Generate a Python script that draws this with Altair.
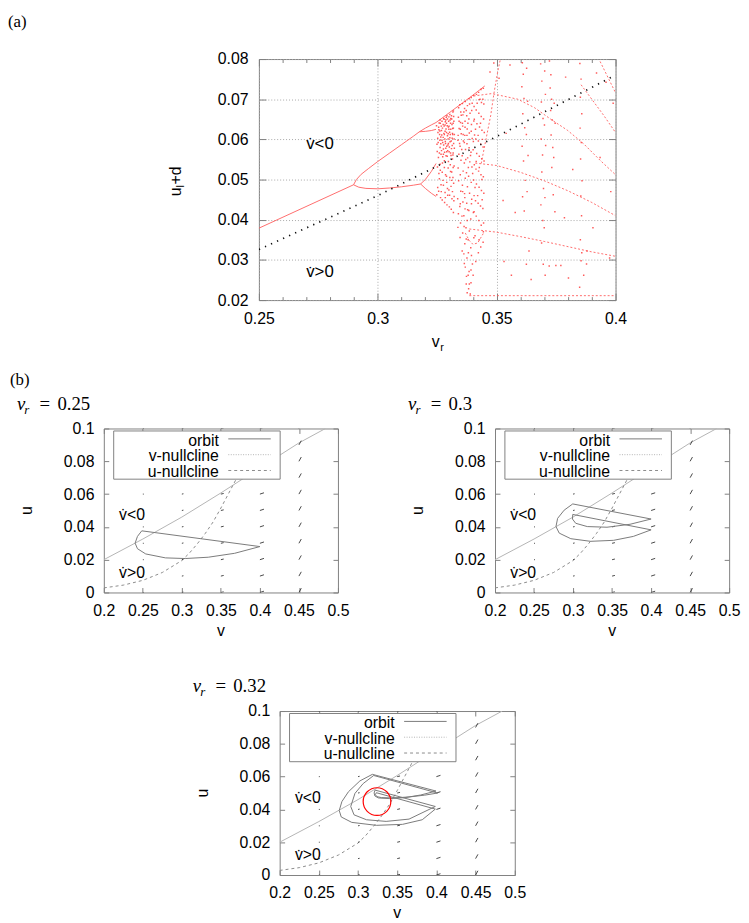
import altair as alt
import pandas as pd

SANS = "Liberation Sans"
SERIF = "Liberation Serif"
RED_LINE = "#ff5c5c"
RED_DOT = "#ff3030"
BORDER = "#808080"
ORBIT_C = "#7a7a7a"
VNULL_C = "#b4b4b4"
UNULL_C = "#8a8a8a"

ONE = pd.DataFrame({"k": [0]})

# ================= panel (a): bifurcation diagram =================
A_X_MAJOR = [0.25, 0.30, 0.35, 0.40]
A_X_TICKS = [0.25, 0.26, 0.27, 0.28, 0.29, 0.30, 0.31, 0.32, 0.33, 0.34,
             0.35, 0.36, 0.37, 0.38, 0.39, 0.40]
A_Y_TICKS = [0.02, 0.03, 0.04, 0.05, 0.06, 0.07, 0.08]

P1_V = [0.2500, 0.2898]
P1_U = [0.0379, 0.0487]
P2_UP_V = [0.2898, 0.2910, 0.2930, 0.2960, 0.3000, 0.3050, 0.3100, 0.3150, 0.3175]
P2_UP_U = [0.0487, 0.0500, 0.0513, 0.0527, 0.0545, 0.0566, 0.0587, 0.0608, 0.0619]
P2_LO_V = [0.2898, 0.2920, 0.2950, 0.3000, 0.3050, 0.3100, 0.3150, 0.3180]
P2_LO_U = [0.0487, 0.0481, 0.0478, 0.0477, 0.0479, 0.0482, 0.0486, 0.0489]
P4_A_V = [0.3175, 0.3200, 0.3225, 0.3245]
P4_A_U = [0.0619, 0.0628, 0.0636, 0.0642]
P4_B_V = [0.3175, 0.3200, 0.3225, 0.3245]
P4_B_U = [0.0619, 0.0620, 0.0622, 0.0625]
P4_C_V = [0.3180, 0.3200, 0.3225, 0.3245]
P4_C_U = [0.0489, 0.0500, 0.0520, 0.0540]
P4_D_V = [0.3180, 0.3200, 0.3225, 0.3245]
P4_D_U = [0.0489, 0.0478, 0.0466, 0.0458]
EDGE_V = [0.3245, 0.3300, 0.3350, 0.3400, 0.3450]
EDGE_U = [0.0642, 0.0666, 0.0688, 0.0710, 0.0733]

C_UP_V = [0.3403, 0.3479, 0.3589, 0.3659, 0.3728, 0.3797, 0.3866, 0.3935, 0.4000]
C_UP_U = [0.0708, 0.0714, 0.0700, 0.0679, 0.0650, 0.0623, 0.0589, 0.0548, 0.0512]
C_MID_V = [0.3410, 0.3500, 0.3600, 0.3700, 0.3800, 0.3900, 0.4000]
C_MID_U = [0.0541, 0.0535, 0.0518, 0.0497, 0.0472, 0.0443, 0.0410]
C_LOW_V = [0.3385, 0.3500, 0.3600, 0.3700, 0.3800, 0.3900, 0.4000]
C_LOW_U = [0.0377, 0.0369, 0.0358, 0.0346, 0.0333, 0.0320, 0.0309]
C_BOT_V = [0.3385, 0.4000]
C_BOT_U = [0.0211, 0.0211]
C_DG1_V = [0.3855, 0.3900, 0.3950, 0.4000]
C_DG1_U = [0.0736, 0.0700, 0.0660, 0.0617]
C_DG2_V = [0.3935, 0.4000]
C_DG2_U = [0.0794, 0.0716]
C_LUP_V = [0.3435, 0.3455, 0.3475, 0.3490, 0.3505, 0.3515]
C_LUP_U = [0.0540, 0.0600, 0.0660, 0.0720, 0.0770, 0.0798]
C_U_V = [0.3368, 0.3385, 0.3400, 0.3420, 0.3445]
C_U_U = [0.0367, 0.0348, 0.0339, 0.0342, 0.0367]

CHAOS = [
    (0.3248, 0.0462), (0.3251, 0.0531), (0.3249, 0.0588), (0.3253, 0.0617), (0.3247, 0.0634),
    (0.3256, 0.0471), (0.3259, 0.0502), (0.3255, 0.0555), (0.3261, 0.0598), (0.3258, 0.0641),
    (0.3257, 0.0624), (0.3264, 0.0455), (0.3266, 0.0487), (0.3263, 0.0523), (0.3268, 0.0572),
    (0.3265, 0.0606), (0.3267, 0.0633), (0.3262, 0.0648), (0.3271, 0.0449), (0.3274, 0.0498),
    (0.3272, 0.0541), (0.3276, 0.0563), (0.3273, 0.0592), (0.3278, 0.0615), (0.3275, 0.0637),
    (0.3277, 0.0652), (0.3281, 0.0443), (0.3283, 0.0468), (0.3285, 0.0512), (0.3280, 0.0547),
    (0.3286, 0.0578), (0.3282, 0.0601), (0.3287, 0.0626), (0.3284, 0.0644), (0.3288, 0.0655),
    (0.3291, 0.0437), (0.3294, 0.0461), (0.3290, 0.0493), (0.3296, 0.0529), (0.3292, 0.0558),
    (0.3295, 0.0586), (0.3293, 0.0609), (0.3297, 0.0631), (0.3291, 0.0659), (0.3301, 0.0432),
    (0.3299, 0.0474), (0.3303, 0.0505), (0.3305, 0.0537), (0.3300, 0.0569), (0.3304, 0.0594),
    (0.3302, 0.0618), (0.3306, 0.0640), (0.3303, 0.0662), (0.3309, 0.0426), (0.3312, 0.0452),
    (0.3308, 0.0483), (0.3311, 0.0519), (0.3314, 0.0551), (0.3310, 0.0577), (0.3313, 0.0603),
    (0.3315, 0.0627), (0.3311, 0.0651), (0.3316, 0.0668), (0.3318, 0.0418), (0.3320, 0.0447),
    (0.3319, 0.0491), (0.3321, 0.0534), (0.3317, 0.0566), (0.3322, 0.0612), (0.3320, 0.0645),
    (0.3318, 0.0671), (0.3252, 0.0603), (0.3260, 0.0612), (0.3268, 0.0622), (0.3270, 0.0598),
    (0.3279, 0.0633), (0.3285, 0.0590), (0.3289, 0.0640), (0.3296, 0.0601), (0.3298, 0.0645),
    (0.3305, 0.0612), (0.3307, 0.0652), (0.3314, 0.0615), (0.3317, 0.0640), (0.3262, 0.0580),
    (0.3276, 0.0576), (0.3290, 0.0569), (0.3308, 0.0560), (0.3319, 0.0590), (0.3283, 0.0620),
    (0.3299, 0.0625),
    (0.3250, 0.0570), (0.3254, 0.0592), (0.3256, 0.0630), (0.3259, 0.0566), (0.3261, 0.0621),
    (0.3263, 0.0640), (0.3265, 0.0589), (0.3266, 0.0563), (0.3269, 0.0611), (0.3270, 0.0645),
    (0.3272, 0.0628), (0.3273, 0.0557), (0.3275, 0.0605), (0.3277, 0.0586), (0.3279, 0.0650),
    (0.3280, 0.0612), (0.3281, 0.0568), (0.3283, 0.0636), (0.3284, 0.0595), (0.3286, 0.0648),
    (0.3287, 0.0559), (0.3289, 0.0617), (0.3290, 0.0583), (0.3292, 0.0634), (0.3293, 0.0651),
    (0.3294, 0.0572), (0.3296, 0.0614), (0.3297, 0.0590), (0.3299, 0.0656), (0.3300, 0.0633),
    (0.3301, 0.0581), (0.3303, 0.0604), (0.3304, 0.0648), (0.3306, 0.0566), (0.3307, 0.0625),
    (0.3309, 0.0596), (0.3310, 0.0659), (0.3312, 0.0637), (0.3313, 0.0585), (0.3315, 0.0612),
    (0.3316, 0.0561), (0.3318, 0.0628), (0.3319, 0.0657), (0.3321, 0.0601), (0.3322, 0.0578),
    (0.3252, 0.0480), (0.3257, 0.0515), (0.3262, 0.0538), (0.3267, 0.0470), (0.3271, 0.0518),
    (0.3276, 0.0486), (0.3280, 0.0530), (0.3284, 0.0455), (0.3289, 0.0508), (0.3293, 0.0478),
    (0.3297, 0.0545), (0.3302, 0.0461), (0.3306, 0.0520), (0.3310, 0.0498), (0.3314, 0.0470),
    (0.3317, 0.0530), (0.3321, 0.0458), (0.3316, 0.0505),
    (0.3337, 0.0381), (0.3339, 0.0415), (0.3336, 0.0452), (0.3340, 0.0497), (0.3338, 0.0529),
    (0.3341, 0.0563), (0.3337, 0.0598), (0.3342, 0.0627), (0.3339, 0.0655), (0.3340, 0.0679),
    (0.3346, 0.0356), (0.3348, 0.0392), (0.3345, 0.0433), (0.3349, 0.0471), (0.3347, 0.0512),
    (0.3350, 0.0548), (0.3346, 0.0583), (0.3351, 0.0614), (0.3348, 0.0642), (0.3349, 0.0668),
    (0.3345, 0.0686), (0.3355, 0.0322), (0.3357, 0.0367), (0.3354, 0.0409), (0.3358, 0.0444),
    (0.3356, 0.0486), (0.3359, 0.0521), (0.3355, 0.0559), (0.3360, 0.0596), (0.3357, 0.0633),
    (0.3358, 0.0661), (0.3356, 0.0689), (0.3364, 0.0291), (0.3366, 0.0340), (0.3363, 0.0383),
    (0.3367, 0.0427), (0.3365, 0.0465), (0.3368, 0.0503), (0.3364, 0.0541), (0.3369, 0.0575),
    (0.3366, 0.0610), (0.3367, 0.0645), (0.3365, 0.0677), (0.3368, 0.0694), (0.3373, 0.0259),
    (0.3375, 0.0305), (0.3372, 0.0352), (0.3376, 0.0398), (0.3374, 0.0441), (0.3377, 0.0482),
    (0.3373, 0.0517), (0.3378, 0.0554), (0.3375, 0.0589), (0.3376, 0.0626), (0.3374, 0.0659),
    (0.3377, 0.0684), (0.3382, 0.0228), (0.3384, 0.0271), (0.3381, 0.0318), (0.3385, 0.0372),
    (0.3383, 0.0423), (0.3386, 0.0466), (0.3382, 0.0508), (0.3387, 0.0544), (0.3384, 0.0579),
    (0.3385, 0.0616), (0.3383, 0.0651), (0.3386, 0.0688), (0.3384, 0.0701), (0.3392, 0.0243),
    (0.3394, 0.0311), (0.3391, 0.0402), (0.3395, 0.0451), (0.3393, 0.0493), (0.3396, 0.0531),
    (0.3392, 0.0568), (0.3397, 0.0602), (0.3394, 0.0637), (0.3395, 0.0672), (0.3393, 0.0704),
    (0.3401, 0.0262), (0.3404, 0.0355), (0.3402, 0.0418), (0.3405, 0.0460), (0.3403, 0.0499),
    (0.3406, 0.0537), (0.3401, 0.0574), (0.3407, 0.0611), (0.3404, 0.0646), (0.3405, 0.0682),
    (0.3403, 0.0709), (0.3412, 0.0296), (0.3414, 0.0409), (0.3411, 0.0447), (0.3415, 0.0489),
    (0.3413, 0.0526), (0.3416, 0.0565), (0.3412, 0.0601), (0.3417, 0.0639), (0.3414, 0.0673),
    (0.3415, 0.0712), (0.3423, 0.0318), (0.3425, 0.0398), (0.3422, 0.0441), (0.3426, 0.0481),
    (0.3424, 0.0521), (0.3427, 0.0558), (0.3423, 0.0596), (0.3428, 0.0631), (0.3425, 0.0665),
    (0.3426, 0.0699), (0.3424, 0.0717), (0.3433, 0.0332), (0.3435, 0.0386), (0.3432, 0.0434),
    (0.3436, 0.0473), (0.3434, 0.0512), (0.3437, 0.0552), (0.3433, 0.0588), (0.3438, 0.0623),
    (0.3435, 0.0657), (0.3436, 0.0692), (0.3434, 0.0724), (0.3443, 0.0344), (0.3445, 0.0392),
    (0.3442, 0.0428), (0.3446, 0.0466), (0.3444, 0.0507), (0.3447, 0.0546), (0.3443, 0.0581),
    (0.3448, 0.0617), (0.3445, 0.0651), (0.3446, 0.0688), (0.3444, 0.0727),
    (0.3338, 0.0610), (0.3342, 0.0645), (0.3344, 0.0590), (0.3347, 0.0625), (0.3351, 0.0660),
    (0.3353, 0.0575), (0.3356, 0.0640), (0.3359, 0.0612), (0.3362, 0.0668), (0.3364, 0.0592),
    (0.3367, 0.0630), (0.3370, 0.0550), (0.3372, 0.0672), (0.3375, 0.0610), (0.3379, 0.0640),
    (0.3381, 0.0530), (0.3384, 0.0600), (0.3388, 0.0665), (0.3390, 0.0560), (0.3393, 0.0620),
    (0.3397, 0.0690), (0.3399, 0.0515), (0.3402, 0.0595), (0.3406, 0.0650), (0.3409, 0.0480),
    (0.3411, 0.0625), (0.3414, 0.0545), (0.3418, 0.0690), (0.3420, 0.0460), (0.3422, 0.0610),
    (0.3427, 0.0530), (0.3430, 0.0700), (0.3432, 0.0640), (0.3438, 0.0500), (0.3440, 0.0600),
    (0.3442, 0.0700), (0.3439, 0.0450), (0.3347, 0.0440), (0.3362, 0.0410), (0.3371, 0.0380),
    (0.3380, 0.0350), (0.3391, 0.0330), (0.3398, 0.0290), (0.3409, 0.0360), (0.3426, 0.0350),
    (0.3444, 0.0370), (0.3357, 0.0470), (0.3366, 0.0455), (0.3378, 0.0425), (0.3394, 0.0440),
    (0.3405, 0.0420), (0.3362, 0.0315), (0.3368, 0.0282), (0.3372, 0.0240), (0.3376, 0.0218),
    (0.3380, 0.0262), (0.3385, 0.0240), (0.3389, 0.0215), (0.3392, 0.0275),
    (0.3472, 0.0768), (0.3488, 0.0790), (0.3510, 0.0752), (0.3527, 0.0448), (0.3531, 0.0296),
    (0.3556, 0.0785), (0.3562, 0.0262), (0.3578, 0.0418), (0.3540, 0.0615),
    (0.3608, 0.0791), (0.3612, 0.0762), (0.3606, 0.0731), (0.3615, 0.0702), (0.3610, 0.0664),
    (0.3618, 0.0629), (0.3607, 0.0583), (0.3613, 0.0546), (0.3620, 0.0498), (0.3609, 0.0457),
    (0.3616, 0.0422), (0.3626, 0.0777), (0.3630, 0.0695), (0.3625, 0.0612), (0.3632, 0.0560),
    (0.3628, 0.0470), (0.3636, 0.0322), (0.3625, 0.0289), (0.3645, 0.0251),
    (0.3685, 0.0788), (0.3690, 0.0745), (0.3688, 0.0693), (0.3695, 0.0652), (0.3687, 0.0601),
    (0.3693, 0.0561), (0.3690, 0.0519), (0.3697, 0.0478), (0.3686, 0.0437), (0.3694, 0.0398),
    (0.3689, 0.0342), (0.3696, 0.0289), (0.3702, 0.0770), (0.3705, 0.0712), (0.3701, 0.0636),
    (0.3706, 0.0585), (0.3703, 0.0455), (0.3700, 0.0380), (0.3704, 0.0262),
    (0.3722, 0.0795), (0.3728, 0.0761), (0.3725, 0.0728), (0.3731, 0.0700), (0.3727, 0.0672),
    (0.3734, 0.0648), (0.3729, 0.0611), (0.3736, 0.0580), (0.3740, 0.0555), (0.3732, 0.0530),
    (0.3738, 0.0462), (0.3745, 0.0420), (0.3721, 0.0285), (0.3749, 0.0286), (0.3742, 0.0690),
    (0.3746, 0.0640), (0.3770, 0.0286), (0.3785, 0.0405), (0.3802, 0.0255), (0.3820, 0.0525),
    (0.3790, 0.0755),
    (0.3850, 0.0789), (0.3855, 0.0750), (0.3852, 0.0705), (0.3858, 0.0664), (0.3851, 0.0628),
    (0.3856, 0.0592), (0.3853, 0.0551), (0.3859, 0.0497), (0.3854, 0.0459), (0.3857, 0.0410),
    (0.3852, 0.0350), (0.3858, 0.0318), (0.3855, 0.0298), (0.3849, 0.0232), (0.3866, 0.0262),
    (0.3880, 0.0322), (0.3878, 0.0290), (0.3905, 0.0380), (0.3920, 0.0765), (0.3960, 0.0742),
    (0.3975, 0.0305), (0.3935, 0.0555), (0.3990, 0.0690), (0.3980, 0.0470),
]

# dotted black line of panel (a)
NC_A_V = [0.25, 0.30, 0.35, 0.40]
NC_A_U = [0.0326, 0.0460, 0.0607, 0.0760]

A_LABEL_V = [0.2699, 0.2699]
A_LABEL_U = [0.0589, 0.0269]
LABEL_T = ["v\u0307<0", "v\u0307>0"]

# ================= panels (b): phase planes =================
B_X_TICKS = [0.20, 0.25, 0.30, 0.35, 0.40, 0.45, 0.50]
B_Y_TICKS = [0.00, 0.02, 0.04, 0.06, 0.08, 0.10]

V_NULL_V = [0.200, 0.250, 0.300, 0.350, 0.400, 0.450, 0.484]
V_NULL_U = [0.0200, 0.0326, 0.0460, 0.0607, 0.0760, 0.0912, 0.1000]
U_NULL_V = [0.200, 0.225, 0.250, 0.275, 0.300, 0.310, 0.320, 0.330, 0.340, 0.350, 0.360, 0.370, 0.380]
U_NULL_U = [0.0028, 0.0045, 0.0074, 0.0122, 0.0195, 0.0242, 0.0298, 0.0360, 0.0430, 0.0515, 0.0605, 0.0695, 0.0790]

VF_V = [0.25, 0.30, 0.35, 0.40, 0.45]
VF_U = [0.00, 0.01, 0.02, 0.03, 0.04, 0.05, 0.06, 0.07, 0.08, 0.09, 0.10]
VF_DV = [0.0012, 0.0020, 0.0036, 0.0052, 0.0030]
VF_DU = [0.0000, 0.0002, 0.0004, 0.0008, 0.0026]

ORBIT1_V = [0.2486, 0.2431, 0.2401, 0.2431, 0.2537, 0.2790, 0.3043, 0.3338, 0.3676, 0.4000, 0.2486]
ORBIT1_U = [0.0376, 0.0342, 0.0301, 0.0267, 0.0235, 0.0211, 0.0207, 0.0215, 0.0239, 0.0280, 0.0376]

ORBIT2_V = [0.2996, 0.2886, 0.2802, 0.2781, 0.2823, 0.2971, 0.3224, 0.3519, 0.3772, 0.4000,
            0.2996, 0.2992, 0.3034, 0.3182, 0.3435, 0.3730, 0.4000, 0.2996]
ORBIT2_U = [0.0540, 0.0502, 0.0452, 0.0402, 0.0362, 0.0328, 0.0312, 0.0318, 0.0342, 0.0382,
            0.0476, 0.0448, 0.0422, 0.0402, 0.0398, 0.0416, 0.0448, 0.0540]

ORBIT3_V = [0.3183, 0.3024, 0.2878, 0.2794, 0.2760, 0.2786, 0.2920, 0.3233, 0.3568, 0.3819, 0.3986,
            0.3233, 0.3222, 0.3240, 0.3300, 0.3450, 0.3650, 0.3850, 0.4015,
            0.3200, 0.3066, 0.2961, 0.2907, 0.2949, 0.3108, 0.3359, 0.3651, 0.3986,
            0.3217, 0.3205, 0.3215, 0.3260, 0.3400, 0.3600, 0.3800, 0.3995, 0.3183]
ORBIT3_U = [0.0614, 0.0574, 0.0508, 0.0448, 0.0393, 0.0354, 0.0321, 0.0303, 0.0309, 0.0337, 0.0402,
            0.0502, 0.0490, 0.0478, 0.0472, 0.0470, 0.0476, 0.0487, 0.0500,
            0.0607, 0.0558, 0.0498, 0.0418, 0.0367, 0.0337, 0.0327, 0.0341, 0.0418,
            0.0518, 0.0500, 0.0482, 0.0470, 0.0466, 0.0472, 0.0488, 0.0512, 0.0614]

CIRCLE_V = [0.3242]
CIRCLE_U = [0.0448]

B_LABEL_V = [0.2195, 0.2195]
B_LABEL_U = [0.0472, 0.0120]

LEGEND_T = ["orbit", "v-nullcline", "u-nullcline"]


# ================= helpers =================
def lines_df(curves):
    rows = []
    for name, vs, us in curves:
        for i, (v, u) in enumerate(zip(vs, us)):
            rows.append({"v": v, "u": u, "seg": name, "i": i})
    return pd.DataFrame(rows)


def label_axis(orient, values, fmt, pad, grid=False):
    kw = dict(orient=orient, values=values, format=fmt, ticks=False, tickSize=0,
              domain=False, labelPadding=pad, labelFont=SANS, labelFontSize=16,
              labelColor="black", labelFlush=False, labelOverlap=False,
              grid=grid, title=None)
    if grid:
        kw.update(gridColor="#a8a8a8", gridDash=[1, 2], gridWidth=1)
    return alt.Axis(**kw)


def tick_axis(orient, values, offset, size):
    return alt.Axis(orient=orient, values=values, offset=offset, labels=False,
                    domain=False, ticks=True, tickSize=size, tickColor=BORDER,
                    tickWidth=1, grid=False, title=None)


def px_text(text, x, y, size=16, font=SANS, style="normal", align="left",
            baseline="alphabetic", angle=0, color="black"):
    kw = dict(text=text, font=font, fontSize=size, fontStyle=style, align=align,
              baseline=baseline, color=color)
    if angle:
        kw["angle"] = angle
    return alt.Chart(ONE).mark_text(**kw).encode(x=alt.value(x), y=alt.value(y))


def px_rule(x1, x2, y, color, dash=None):
    kw = dict(color=color, strokeWidth=1)
    if dash:
        kw["strokeDash"] = dash
    return alt.Chart(ONE).mark_rule(**kw).encode(x=alt.value(x1), x2=alt.value(x2), y=alt.value(y))


def frame(x1, x2, y1, y2):
    return alt.Chart(ONE).mark_rect(opacity=0).encode(
        x=alt.value(x1), x2=alt.value(x2), y=alt.value(y1), y2=alt.value(y2))


MAJOR_TEST = "abs(datum.value * 20 - round(datum.value * 20)) < 0.001"
TICK_A_X = {"condition": {"test": MAJOR_TEST, "value": 7}, "value": 3.5}

# ================= build panel (a) =================
WA, HA = 361, 244
XA = alt.Scale(domain=[0.25, 0.40], nice=False, zero=False)
YA = alt.Scale(domain=[0.02, 0.08], nice=False, zero=False)

solid = [("p1", P1_V, P1_U), ("p2u", P2_UP_V, P2_UP_U), ("p2l", P2_LO_V, P2_LO_U),
         ("p4a", P4_A_V, P4_A_U), ("p4b", P4_B_V, P4_B_U), ("p4c", P4_C_V, P4_C_U),
         ("p4d", P4_D_V, P4_D_U), ("edge", EDGE_V, EDGE_U)]
dashed = [("up", C_UP_V, C_UP_U), ("mid", C_MID_V, C_MID_U), ("low", C_LOW_V, C_LOW_U),
          ("bot", C_BOT_V, C_BOT_U), ("dg1", C_DG1_V, C_DG1_U), ("dg2", C_DG2_V, C_DG2_U),
          ("lup", C_LUP_V, C_LUP_U), ("cu", C_U_V, C_U_U)]

a_solid = alt.Chart(lines_df(solid)).mark_line(color=RED_LINE, strokeWidth=0.9, clip=True).encode(
    x=alt.X("v:Q", scale=XA, axis=label_axis("bottom", A_X_MAJOR, ".2~f", 11, grid=True)),
    y=alt.Y("u:Q", scale=YA, axis=label_axis("left", A_Y_TICKS, ".2f", 11, grid=True)),
    detail="seg:N", order="i:Q")

a_chaos = alt.Chart(pd.DataFrame(CHAOS, columns=["v", "u"])).mark_square(
    size=2.2, color=RED_DOT, opacity=0.8, clip=True).encode(
    x=alt.X("v:Q", scale=XA, axis=tick_axis("top", A_X_TICKS, -HA, TICK_A_X)),
    y=alt.Y("u:Q", scale=YA, axis=tick_axis("right", A_Y_TICKS, -WA, 7)))

a_dashed = alt.Chart(lines_df(dashed)).mark_line(
    color=RED_LINE, strokeWidth=0.9, strokeDash=[2, 2], clip=True).encode(
    x=alt.X("v:Q", scale=XA, axis=tick_axis("bottom", A_X_TICKS, -HA, TICK_A_X)),
    y=alt.Y("u:Q", scale=YA, axis=tick_axis("left", A_Y_TICKS, -WA, 7)),
    detail="seg:N", order="i:Q")

a_null = alt.Chart(pd.DataFrame({"v": NC_A_V, "u": NC_A_U})).mark_line(
    color="#111111", strokeWidth=1.7, strokeDash=[1.3, 5.4], clip=True).encode(
    x=alt.X("v:Q", scale=XA, axis=None), y=alt.Y("u:Q", scale=YA, axis=None))

a_labels = alt.Chart(pd.DataFrame({"v": A_LABEL_V, "u": A_LABEL_U, "t": LABEL_T})).mark_text(
    align="left", baseline="middle", font=SANS, fontSize=17, color="black").encode(
    x=alt.X("v:Q", scale=XA, axis=None), y=alt.Y("u:Q", scale=YA, axis=None), text="t:N")

A = alt.layer(
    a_solid, a_chaos, a_dashed, a_null, a_labels,
    px_text("v", 175, 291), px_text("r", 183.5, 296, size=11),
    px_text("u", -79, 139, angle=270), px_text("l", -76, 130, size=11, angle=270),
    px_text("+d", -79, 127, angle=270),
    frame(-100, 369, -40, 312),
).resolve_axis(x="independent", y="independent").properties(
    width=WA, height=HA, view=alt.ViewBackground(stroke=BORDER, strokeWidth=1))

# ================= build panels (b) =================
WB, HB = 237, 166
XB = alt.Scale(domain=[0.2, 0.5], nice=False, zero=False)
YB = alt.Scale(domain=[0.0, 0.1], nice=False, zero=False)

VNULL_DF = pd.DataFrame({"v": V_NULL_V, "u": V_NULL_U, "i": list(range(len(V_NULL_V)))})
UNULL_DF = pd.DataFrame({"v": U_NULL_V, "u": U_NULL_U, "i": list(range(len(U_NULL_V)))})
vf_rows = []
for v, dv, du in zip(VF_V, VF_DV, VF_DU):
    for u in VF_U:
        vf_rows.append({"v": v, "u": u, "v2": v + dv, "u2": u + du})
VF_DF = pd.DataFrame(vf_rows)


def panel_b(orbit_v, orbit_u, value_txt, W, fr, show_b=False, circle=False):
    H = HB
    odf = pd.DataFrame({"v": orbit_v, "u": orbit_u, "i": list(range(len(orbit_v)))})
    vnull = alt.Chart(VNULL_DF).mark_line(color=VNULL_C, strokeWidth=1, clip=True).encode(
        x=alt.X("v:Q", scale=XB, axis=tick_axis("top", B_X_TICKS, -H, 5)),
        y=alt.Y("u:Q", scale=YB, axis=tick_axis("right", B_Y_TICKS, -W, 5)),
        order="i:Q")
    unull = alt.Chart(UNULL_DF).mark_line(color=UNULL_C, strokeWidth=1, strokeDash=[3, 3],
                                          clip=True).encode(
        x=alt.X("v:Q", scale=XB, axis=tick_axis("bottom", B_X_TICKS, -H, 5)),
        y=alt.Y("u:Q", scale=YB, axis=tick_axis("left", B_Y_TICKS, -W, 5)),
        order="i:Q")
    vf = alt.Chart(VF_DF).mark_rule(color="#333333", strokeWidth=0.9, clip=True).encode(
        x=alt.X("v:Q", scale=XB, axis=None), x2="v2:Q",
        y=alt.Y("u:Q", scale=YB, axis=None), y2="u2:Q")
    orbit = alt.Chart(odf).mark_line(color=ORBIT_C, strokeWidth=1, clip=True).encode(
        x=alt.X("v:Q", scale=XB, axis=label_axis("bottom", B_X_TICKS, ".2~f", 10)),
        y=alt.Y("u:Q", scale=YB, axis=label_axis("left", B_Y_TICKS, ".2~f", 10)),
        order="i:Q")
    labels = alt.Chart(pd.DataFrame({"v": B_LABEL_V, "u": B_LABEL_U, "t": LABEL_T})).mark_text(
        align="left", baseline="middle", font=SANS, fontSize=16, color="black").encode(
        x=alt.X("v:Q", scale=XB, axis=None), y=alt.Y("u:Q", scale=YB, axis=None), text="t:N")
    layers = [vnull, unull, vf, orbit, labels]
    if circle:
        layers.append(alt.Chart(pd.DataFrame({"v": CIRCLE_V, "u": CIRCLE_U})).mark_point(
            shape="circle", size=784, filled=False, color="#ff0000", strokeWidth=1.2,
            opacity=1).encode(x=alt.X("v:Q", scale=XB, axis=None),
                              y=alt.Y("u:Q", scale=YB, axis=None)))
    # legend (gnuplot style key, opaque box)
    layers += [
        alt.Chart(ONE).mark_rect(fill="white", stroke=BORDER, strokeWidth=1).encode(
            x=alt.value(10), x2=alt.value(178.5), y=alt.value(2.5), y2=alt.value(51.3)),
        px_text(LEGEND_T[0], 116.5, 17.5, align="right"),
        px_text(LEGEND_T[1], 116.5, 33, align="right"),
        px_text(LEGEND_T[2], 116.5, 48.6, align="right"),
        px_rule(126, 169, 10.5, ORBIT_C),
        px_rule(126, 169, 26.5, VNULL_C, [1, 1.5]),
        px_rule(126, 169, 42.5, UNULL_C, [3, 3]),
    ]
    # title v_r = value
    layers += [
        px_text("v", -88, -19, size=19, font=SERIF, style="italic"),
        px_text("r", -80.5, -15, size=13, font=SERIF, style="italic"),
        px_text("=", -65, -19, size=19, font=SERIF),
        px_text(value_txt, -47, -19, size=19, font=SERIF),
        px_text("v", W / 2, H + 44, align="center"),
        px_text("u", -77.5, H / 2, align="center", baseline="middle", angle=270),
    ]
    if show_b:
        layers.append(px_text("(b)", -95, -44, size=17, font=SERIF))
    layers.append(frame(*fr))
    return alt.layer(*layers).resolve_axis(x="independent", y="independent").properties(
        width=W, height=H, view=alt.ViewBackground(stroke=BORDER, strokeWidth=1))


B1 = panel_b(ORBIT1_V, ORBIT1_U, "0.25", WB, (-95, 304, -60, 222), show_b=True)
B2 = panel_b(ORBIT2_V, ORBIT2_U, "0.3", WB, (-90, 248, -60, 222))
B3 = panel_b(ORBIT3_V, ORBIT3_U, "0.32", 238, (-90, 249, -62, 216), circle=True)

# ================= spacers & layout =================
S0 = alt.layer(frame(0, 153, -46, 1), px_text("(a)", 0, -32, size=17, font=SERIF)).properties(
    width=153, height=1)
S1 = frame(0, 1, 0, 1).properties(width=1, height=1)
S2 = frame(0, 184, 0, 1).properties(width=184, height=1)

row0 = alt.hconcat(S0, A, spacing=0)
row1 = alt.hconcat(S1, B1, B2, spacing=0)
row2 = alt.hconcat(S2, B3, spacing=0)

chart = alt.vconcat(row0, row1, row2, spacing=0).properties(padding=0).configure_view(stroke=None)

chart.save("out.html", embed_options={"renderer": "svg", "actions": False})
